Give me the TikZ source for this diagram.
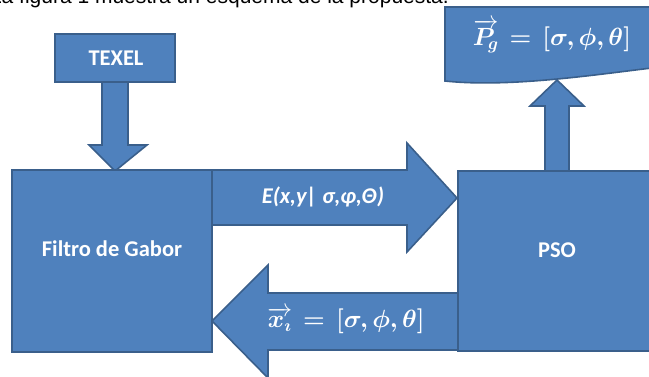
\documentclass[tikz,border=0pt]{standalone}
\usepackage{amsmath,bm}
\usepackage{fontspec}
\setmainfont{Carlito}
\newfontfamily\bodyfont{Liberation Sans}
\definecolor{boxfill}{HTML}{4F81BD}
\definecolor{boxline}{HTML}{3A5F8B}
\tikzset{
  blockshape/.style={fill=boxfill, draw=boxline, line width=1.6pt, line join=miter},
  blockbox/.style={blockshape, rectangle, inner sep=0pt},
  whitelabel/.style={text=white, font=\bfseries\fontsize{22.5}{26}\selectfont, inner sep=0pt},
  mathlabel/.style={text=white, font=\fontsize{23.5}{27}\selectfont, inner sep=0pt},
}
\begin{document}
\begin{tikzpicture}[x=1pt,y=-1pt]
\useasboundingbox (0,0) rectangle (649,376);
\clip (0,0) rectangle (649,376);

% clipped caption line at the top
\node[anchor=base east, inner sep=0pt, font=\bodyfont\fontsize{21}{24}\selectfont] (intro) at (449,3.5) {La figura 1 muestra un esquema de la propuesta.};

% block arrows
\draw[blockshape] (102,82) -- (128,82) -- (128,145) -- (147,145) -- (115,171) -- (89,145) -- (102,145) -- cycle;
\draw[blockshape] (212,170) -- (407,170) -- (407,143) -- (457,198) -- (407,252) -- (407,225) -- (212,225) -- cycle;
\draw[blockshape] (458,293) -- (268,293) -- (268,265) -- (212,321) -- (268,378) -- (268,350) -- (458,350) -- cycle;
\draw[blockshape] (545,171) -- (545,106) -- (530,106) -- (557,80) -- (584,106) -- (569,106) -- (569,171) -- cycle;

% boxes
\node[blockbox, minimum width=120, minimum height=48] (texel) at (115,58) {};
\node[blockbox, minimum width=200, minimum height=182] (filtro) at (112,261) {};
\node[blockbox, minimum width=196, minimum height=180] (pso) at (556,261) {};
\draw[blockshape] (445,81) -- (445,7) -- (660,7) -- (660,66) -- (652,68) .. controls (600,74) and (510,88) .. (445,81) -- cycle;

% labels
\node[whitelabel] (texeltext) at (116,58) {TEXEL};
\node[whitelabel] (filtrotext) at (112,249) {Filtro de Gabor};
\node[whitelabel] (psotext) at (557,250) {PSO};
\node[whitelabel, font=\bfseries\itshape\fontsize{22.5}{26}\selectfont] (etext) at (323,197) {E(x,y| σ,φ,Θ)};
\node[mathlabel] (xtext) at (346,321) {$\overrightarrow{\bm{x}_{\bm{\imath}}}\bm{\,=\,}\bm{[\sigma,\phi,\theta]}$};
\node[mathlabel] (pgtext) at (552,36) {$\overrightarrow{\bm{P}_{\!\bm{g}}}\bm{\,=\,}\bm{[\sigma,\phi,\theta]}$};
\end{tikzpicture}
\end{document}
